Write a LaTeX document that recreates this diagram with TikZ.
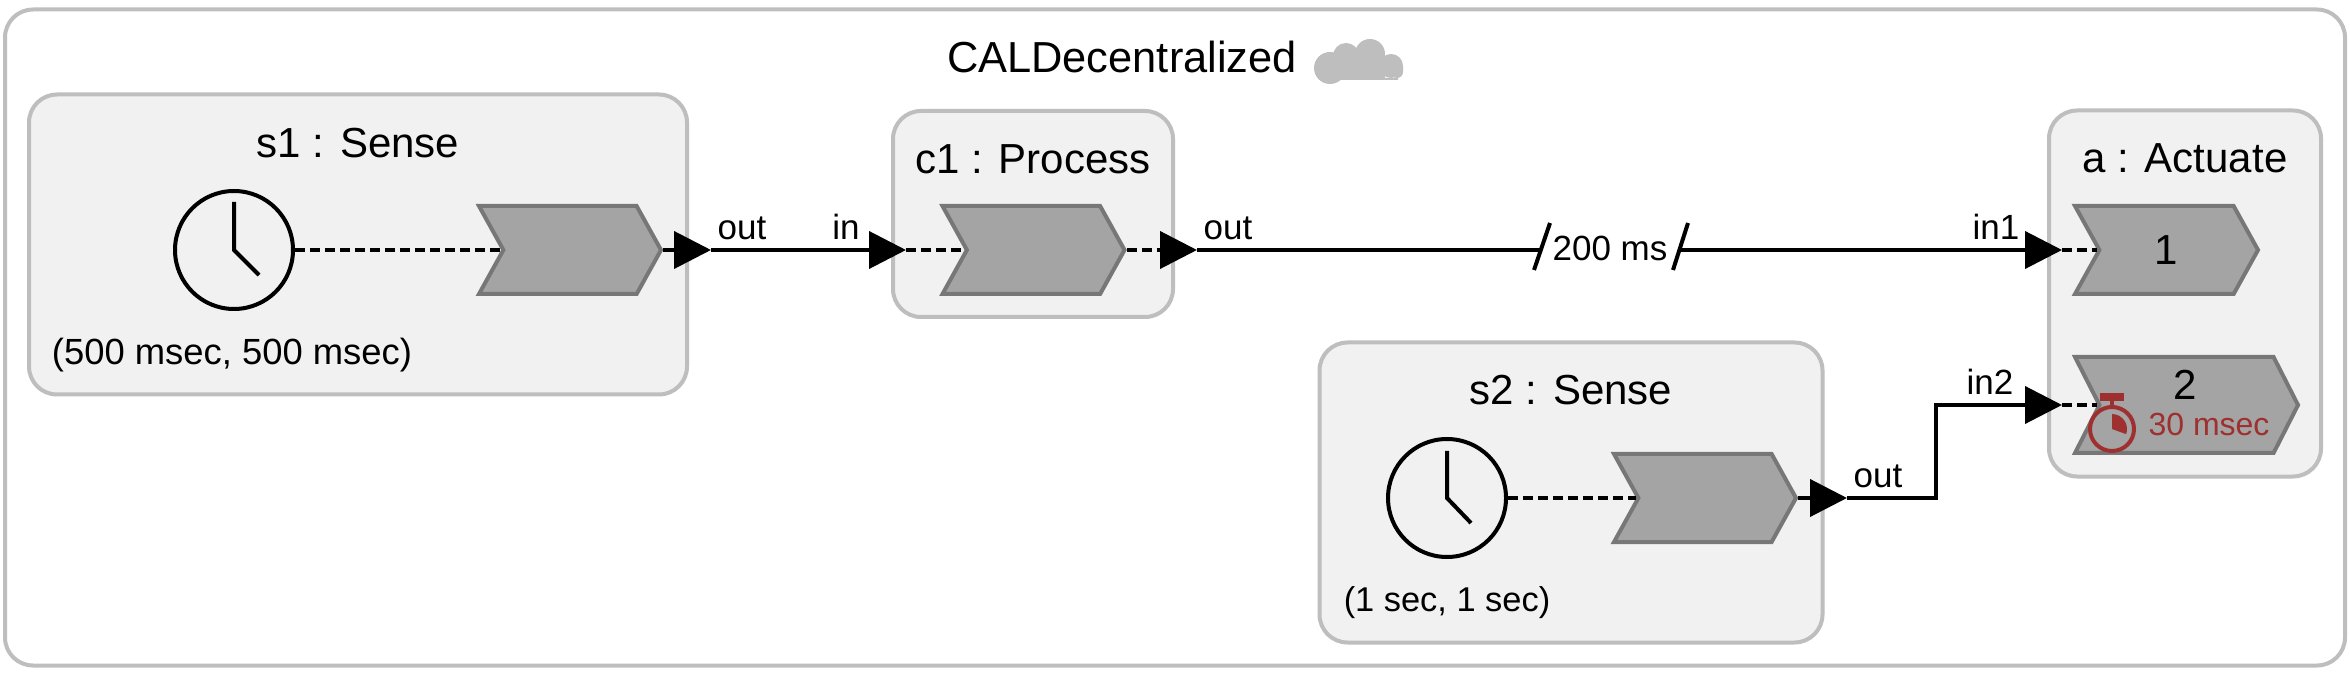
\documentclass[tikz,border=0pt]{standalone}
\usepackage{fontspec}
\setmainfont{Liberation Sans}
\usepackage{tikz}
\usetikzlibrary{arrows.meta,positioning,shapes.symbols}
\definecolor{boxfill}{RGB}{241,241,241}
\definecolor{boxline}{RGB}{190,190,190}
\definecolor{portfill}{RGB}{164,164,164}
\definecolor{portline}{RGB}{119,119,119}
\definecolor{deadline}{RGB}{158,48,48}

\begin{document}
\begin{tikzpicture}[
  x=0.5pt,y=-0.5pt,
  outer/.style={draw=boxline,line width=2pt,fill=white,rounded corners=14pt,minimum width=1170pt,minimum height=328pt,inner sep=0pt},
  reactor/.style={draw=boxline,line width=2pt,fill=boxfill,rounded corners=14pt,inner sep=0pt},
  port/.style={draw=portline,line width=2pt,fill=portfill,shape=signal,signal from=west,signal to=east,signal pointer angle=122,minimum width=91pt,minimum height=44pt,inner sep=0pt,font=\fontsize{21}{25}\selectfont},
  clock/.style={circle,draw=black,line width=2pt,fill=none,minimum size=59pt,inner sep=0pt},
  title/.style={font=\fontsize{21}{25}\selectfont,inner sep=0pt},
  lab/.style={font=\fontsize{17.5}{21}\selectfont,inner sep=0pt},
  wire/.style={line width=2pt,black},
  arr/.style={wire,-{Triangle[length=18.5pt,width=18.5pt]}},
  dashwire/.style={wire,dash pattern=on 5pt off 2.5pt},
  hand/.style={line width=2pt,black}]
  \useasboundingbox (0,0) rectangle (2350,678);
  \node[outer] (top) at (1175,337.5) {};
  \node[title,font=\fontsize{21.7}{26}\selectfont] (toplab) at (1122,57) {CALDecentralized};
  \fill[boxline] (1330,68) circle (16) (1346,56) circle (13) (1370,54) circle (15) (1391,66) circle (12);
  \fill[boxline] (1330,55) rectangle (1385,80);
  \fill[boxline] (1385,66) rectangle (1403,72) -- (1385,80) rectangle (1398,78);
  \fill[boxline] (1397,72) circle (6);
  \node[reactor,minimum width=329pt,minimum height=150pt] (s1) at (358,244.5) {};
  \node[reactor,minimum width=140pt,minimum height=103pt] (c1) at (1033,214) {};
  \node[reactor,minimum width=251.5pt,minimum height=150pt] (s2) at (1571,492.5) {};
  \node[reactor,minimum width=136pt,minimum height=183pt] (a) at (2185,293.5) {};
  \node[title,below=25.5pt of s1.north,anchor=center] (s1lab) {s1 : Sense};
  \node[title,below=25pt of c1.north,anchor=center] (c1lab) {c1 : Process};
  \node[title,below=25pt of s2.north,anchor=center] (s2lab) {s2 : Sense};
  \node[title,below=25pt of a.north,anchor=center] (alab) {a : Actuate};
  \node[clock] (s1clk) at (234,250) {};
  \node[clock] (s2clk) at (1447,498) {};
  \draw[hand] (234,202) -- (s1clk.center) -- (259,275);
  \draw[hand] (1447,451) -- (s2clk.center) -- (1471,523);
  \node[port] (s1p) at (570,250) {};
  \node[port] (c1p) at (1033.5,250) {};
  \node[port] (s2p) at (1705,498) {};
  \node[port,minimum width=91.5pt] (a1) at (2166.5,250) {1};
  \node[port,minimum width=111.5pt,minimum height=48pt,signal pointer angle=126] (a2) at (2186.5,405) {};
  \node[font=\fontsize{21}{25}\selectfont,inner sep=0pt] (a2lab) at (2185,385) {2};
  \node[lab,font=\fontsize{18.2}{22}\selectfont] (s1par) at (232,355) {(500 msec, 500 msec)};
  \node[lab,font=\fontsize{17.2}{21}\selectfont] (s2par) at (1447,603) {(1 sec, 1 sec)};
  \coordinate (s1o) at (711,250);
  \coordinate (c1i) at (906,250);
  \coordinate (c1o) at (1197,250);
  \coordinate (s2o) at (1847,498);
  \coordinate (a1i) at (2062,250);
  \coordinate (a2i) at (2062,405);
  \coordinate (bend) at (1936,498);
  \coordinate (dl) at (1541,250);
  \coordinate (dr) at (1681,250);
  \coordinate (dlb) at (1534,270);
  \coordinate (dlt) at (1550,223);
  \coordinate (drb) at (1673,270);
  \coordinate (drt) at (1688,223);
  \node[lab] (dly) at (1610,248) {200 ms};
  \draw[wire] (dlb) -- (dlt);
  \draw[wire] (drb) -- (drt);
  \draw[dashwire] (s1clk) -- (s1p.west);
  \draw[dashwire] (s2clk) -- (s2p.west);
  \draw[arr] (s1p.east) -- (s1o);
  \draw[arr] (s1o) -- (c1i);
  \draw[dashwire] (c1i) -- (c1p.west);
  \draw[arr,dashwire] (c1p.east) -- (c1o);
  \draw[wire] (c1o) -- (dl);
  \draw[arr] (dr) -- (a1i);
  \draw[dashwire] (a1i) -- (a1.west);
  \draw[arr] (s2p.east) -- (s2o);
  \draw[arr] (s2o) -- (bend) |- (a2i);
  \draw[dashwire] (a2i) -- (a2.west);
  \node[lab,above=5pt of s1o,xshift=15.5pt] (s1olab) {out};
  \node[lab,above=5pt of c1i,xshift=-30pt] (c1ilab) {in};
  \node[lab,above=5pt of c1o,xshift=15.5pt] (c1olab) {out};
  \node[lab,above=5pt of s2o,xshift=15.5pt] (s2olab) {out};
  \node[lab,above=5pt of a1i,xshift=-33pt] (a1lab) {in1};
  \node[lab,above=5pt of a2i,xshift=-36pt] (a2lab2) {in2};
  \draw[deadline,line width=2pt] (2112,429) circle (22);
  \fill[deadline] (2100,393) rectangle (2124,401);
  \draw[deadline,line width=2pt] (2112,401) -- (2112,406);
  \fill[deadline] (2112,429) -- (2112,414) arc[start angle=-90,end angle=20,radius=15] -- cycle;
  \node[lab,font=\fontsize{16}{19}\selectfont,text=deadline] (a2dl) at (2209,424) {30 msec};
\end{tikzpicture}
\end{document}
